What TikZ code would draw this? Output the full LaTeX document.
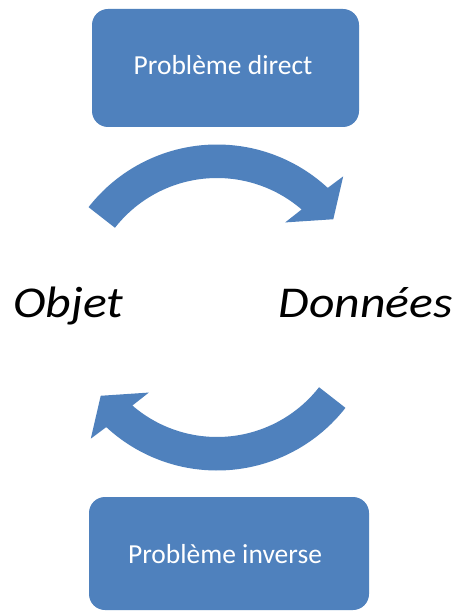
\documentclass[tikz,border=0pt]{standalone}
\usepackage{fontspec}
\setmainfont{Carlito}
\newfontfamily\widecarlito[FakeStretch=1.13]{Carlito}
\usetikzlibrary{calc}
\definecolor{boxblue}{RGB}{79,129,189}
\begin{document}
\begin{tikzpicture}[x=1pt,y=1pt,
  probbox/.style={rectangle, fill=boxblue, draw=none, rounded corners=16pt, inner sep=0pt},
  boxtext/.style={text=white, inner sep=0pt, anchor=base, font=\fontsize{27.5}{33}\selectfont},
  bigword/.style={inner sep=0pt, font=\widecarlito\fontsize{44}{52}\selectfont\itshape},
  curvearrow/.style={fill=boxblue, draw=none}]
\useasboundingbox (0,0) rectangle (455,-612);
\fill[white] (0,0) rectangle (455,-612);
% boxes
\node[probbox, minimum width=267pt, minimum height=118pt] (direct) at (225.5,-68) {};
\node[boxtext] (directtxt) at (223,-75) {Problème direct};
\node[probbox, minimum width=280pt, minimum height=113pt] (inverse) at (229,-553.5) {};
\node[boxtext] (inversetxt) at (225,-563) {Problème inverse};
% words
\node[bigword, anchor=base west] (objet) at (13,-317) {Objet};
\node[bigword, anchor=base east] (donnees) at (453,-317) {Données};
% cycle centre
\coordinate (c) at (217,-307.5);
% top curved arrow
\fill[curvearrow] ($(c)+(142:163)$) arc[start angle=142, end angle=47.2, radius=163]
  -- ($(c)+(46.1:182)$) -- ($(c)+(37.2:146)$) -- ($(c)+(51.3:109)$)
  -- ($(c)+(49.2:129.5)$) arc[start angle=49.2, end angle=142, radius=129.5] -- cycle;
% bottom curved arrow
\fill[curvearrow] ($(c)+(322:163)$) arc[start angle=322, end angle=227.2, radius=163]
  -- ($(c)+(226.1:182)$) -- ($(c)+(217.2:146)$) -- ($(c)+(231.3:109)$)
  -- ($(c)+(229.2:129.5)$) arc[start angle=229.2, end angle=322, radius=129.5] -- cycle;
\end{tikzpicture}
\end{document}
